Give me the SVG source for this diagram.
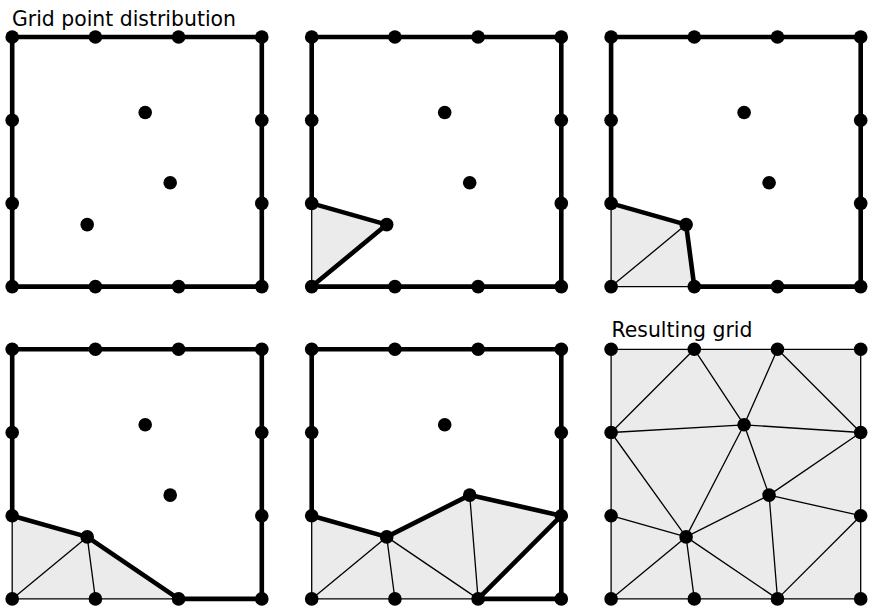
<svg xmlns="http://www.w3.org/2000/svg" width="870" height="609" viewBox="0 0 870 609">
<style>
.bg{fill:#ffffff}
.fill{fill:#ebebeb;stroke:none}
.thick{fill:none;stroke:#000;stroke-width:4.6;stroke-linejoin:round;stroke-linecap:round}
.thin{fill:none;stroke:#000;stroke-width:1.3;stroke-linecap:round}
.dot{fill:#000}
.lbl{font-family:"DejaVu Sans",sans-serif;font-size:20.4px;fill:#000}
</style>
<defs>
<g id="borderdots">
<circle class="dot" cx="0" cy="0" r="6.8"/><circle class="dot" cx="83.2" cy="0" r="6.8"/><circle class="dot" cx="166.4" cy="0" r="6.8"/><circle class="dot" cx="249.6" cy="0" r="6.8"/>
<circle class="dot" cx="0" cy="83.2" r="6.8"/><circle class="dot" cx="249.6" cy="83.2" r="6.8"/>
<circle class="dot" cx="0" cy="166.4" r="6.8"/><circle class="dot" cx="249.6" cy="166.4" r="6.8"/>
<circle class="dot" cx="0" cy="249.6" r="6.8"/><circle class="dot" cx="83.2" cy="249.6" r="6.8"/><circle class="dot" cx="166.4" cy="249.6" r="6.8"/><circle class="dot" cx="249.6" cy="249.6" r="6.8"/>
</g>
<g id="innerdots">
<circle class="dot" cx="133" cy="75.5" r="6.8"/>
<circle class="dot" cx="158" cy="145.8" r="6.8"/>
<circle class="dot" cx="75" cy="187.6" r="6.8"/>
</g>
</defs>
<rect class="bg" x="0" y="0" width="870" height="609"/>
<text class="lbl" x="12" y="25.5">Grid point distribution</text>
<text class="lbl" x="611.5" y="336.5">Resulting grid</text>

<g id="panel1" transform="translate(12.2,37)">
<g id="panel1-connectors">
<path class="thick" d="M0,0 H249.6 V249.6 H0 Z"/>
</g>
<g id="panel1-nodes"><use href="#borderdots"/><use href="#innerdots"/></g>
</g>

<g id="panel2" transform="translate(311.7,37)">
<polygon class="fill" points="0,166.4 75,187.6 0,249.6"/>
<g id="panel2-connectors">
<path class="thin" d="M0,166.4 V249.6"/>
<path class="thick" d="M0,166.4 V0 H249.6 V249.6 H0 L75,187.6 Z"/>
</g>
<g id="panel2-nodes"><use href="#borderdots"/><use href="#innerdots"/></g>
</g>

<g id="panel3" transform="translate(611.1,37)">
<polygon class="fill" points="0,166.4 75,187.6 83.2,249.6 0,249.6"/>
<g id="panel3-connectors">
<path class="thin" d="M0,166.4 V249.6 H83.2 M75,187.6 L0,249.6"/>
<path class="thick" d="M0,166.4 V0 H249.6 V249.6 H83.2 L75,187.6 Z"/>
</g>
<g id="panel3-nodes"><use href="#borderdots"/><use href="#innerdots"/></g>
</g>

<g id="panel4" transform="translate(12.2,349.3)">
<polygon class="fill" points="0,166.4 75,187.6 166.4,249.6 0,249.6"/>
<g id="panel4-connectors">
<path class="thin" d="M0,166.4 V249.6 H166.4 M75,187.6 L0,249.6 M75,187.6 L83.2,249.6"/>
<path class="thick" d="M0,166.4 V0 H249.6 V249.6 H166.4 L75,187.6 Z"/>
</g>
<g id="panel4-nodes"><use href="#borderdots"/><use href="#innerdots"/></g>
</g>

<g id="panel5" transform="translate(311.7,349.3)">
<polygon class="fill" points="0,166.4 75,187.6 158,145.8 249.6,166.4 166.4,249.6 0,249.6"/>
<g id="panel5-connectors">
<path class="thin" d="M0,166.4 V249.6 H166.4 M75,187.6 L0,249.6 M75,187.6 L83.2,249.6 M75,187.6 L166.4,249.6 M158,145.8 L166.4,249.6"/>
<path class="thick" d="M0,166.4 V0 H249.6 V249.6 H166.4 L249.6,166.4 L158,145.8 L75,187.6 Z"/>
</g>
<g id="panel5-nodes"><use href="#borderdots"/><use href="#innerdots"/></g>
</g>

<g id="panel6" transform="translate(611.1,349.3)">
<rect class="fill" x="0" y="0" width="249.6" height="249.6"/>
<g id="panel6-connectors">
<path class="thin" d="M0,0 H249.6 V249.6 H0 Z"/>
<path class="thin" d="M83.2,0 L0,83.2 M83.2,0 L133,75.5 M166.4,0 L133,75.5 M166.4,0 L249.6,83.2 M0,83.2 L133,75.5 M133,75.5 L249.6,83.2 M0,83.2 L75,187.6 M133,75.5 L75,187.6 M133,75.5 L158,145.8 M158,145.8 L249.6,83.2 M158,145.8 L75,187.6 M158,145.8 L249.6,166.4 M158,145.8 L166.4,249.6 M0,166.4 L75,187.6 M75,187.6 L0,249.6 M75,187.6 L83.2,249.6 M75,187.6 L166.4,249.6 M166.4,249.6 L249.6,166.4"/>
</g>
<g id="panel6-nodes"><use href="#borderdots"/><use href="#innerdots"/></g>
</g>
</svg>
